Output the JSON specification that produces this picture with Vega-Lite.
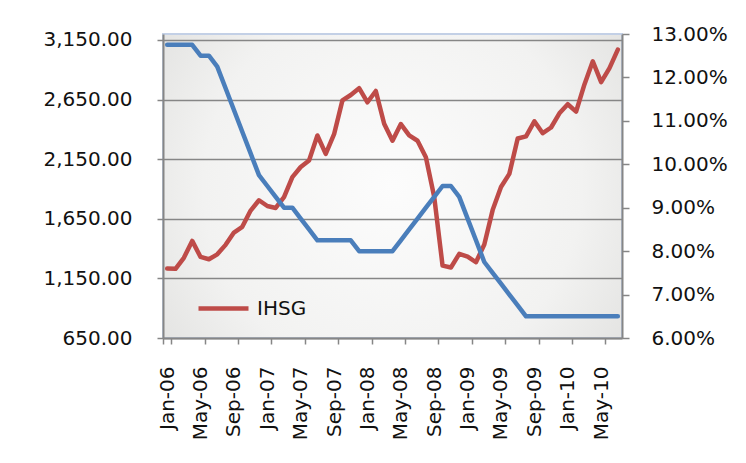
{
  "$schema": "https://vega.github.io/schema/vega-lite/v6.json",
  "width": 459,
  "height": 304,
  "autosize": "none",
  "padding": {"left": 163, "top": 34, "right": 124, "bottom": 125},
  "background": "#ffffff",
  "view": {
    "stroke": "#C3D0E6",
    "strokeWidth": 2,
    "fill": {"gradient": "radial", "x1": 0.5, "y1": 0.5, "r1": 0, "x2": 0.5, "y2": 0.5, "r2": 0.75,
      "stops": [{"offset": 0, "color": "#fcfcfc"}, {"offset": 0.55, "color": "#f2f2f1"}, {"offset": 1, "color": "#d9d9d7"}]}
  },
  "config": {
    "font": "DejaVu Sans",
    "axis": {"labelFont": "DejaVu Sans", "labelFontSize": 20, "labelColor": "#111111", "domainColor": "#868686", "domainWidth": 2, "tickColor": "#868686", "tickWidth": 1.5, "title": null}
  },
  "data": {"values": [
    {"m": "Jan-06", "ihsg": 1232.32, "bi": 12.75},
    {"m": "Feb-06", "ihsg": 1230.66, "bi": 12.75},
    {"m": "Mar-06", "ihsg": 1322.97, "bi": 12.75},
    {"m": "Apr-06", "ihsg": 1464.41, "bi": 12.75},
    {"m": "May-06", "ihsg": 1330.00, "bi": 12.50},
    {"m": "Jun-06", "ihsg": 1310.26, "bi": 12.50},
    {"m": "Jul-06", "ihsg": 1351.65, "bi": 12.25},
    {"m": "Aug-06", "ihsg": 1431.26, "bi": 11.75},
    {"m": "Sep-06", "ihsg": 1534.61, "bi": 11.25},
    {"m": "Oct-06", "ihsg": 1582.63, "bi": 10.75},
    {"m": "Nov-06", "ihsg": 1718.96, "bi": 10.25},
    {"m": "Dec-06", "ihsg": 1805.52, "bi": 9.75},
    {"m": "Jan-07", "ihsg": 1757.26, "bi": 9.50},
    {"m": "Feb-07", "ihsg": 1740.97, "bi": 9.25},
    {"m": "Mar-07", "ihsg": 1830.92, "bi": 9.00},
    {"m": "Apr-07", "ihsg": 1999.17, "bi": 9.00},
    {"m": "May-07", "ihsg": 2084.32, "bi": 8.75},
    {"m": "Jun-07", "ihsg": 2139.28, "bi": 8.50},
    {"m": "Jul-07", "ihsg": 2348.67, "bi": 8.25},
    {"m": "Aug-07", "ihsg": 2194.34, "bi": 8.25},
    {"m": "Sep-07", "ihsg": 2359.21, "bi": 8.25},
    {"m": "Oct-07", "ihsg": 2643.49, "bi": 8.25},
    {"m": "Nov-07", "ihsg": 2688.33, "bi": 8.25},
    {"m": "Dec-07", "ihsg": 2745.83, "bi": 8.00},
    {"m": "Jan-08", "ihsg": 2627.25, "bi": 8.00},
    {"m": "Feb-08", "ihsg": 2721.94, "bi": 8.00},
    {"m": "Mar-08", "ihsg": 2447.30, "bi": 8.00},
    {"m": "Apr-08", "ihsg": 2304.52, "bi": 8.00},
    {"m": "May-08", "ihsg": 2444.35, "bi": 8.25},
    {"m": "Jun-08", "ihsg": 2349.10, "bi": 8.50},
    {"m": "Jul-08", "ihsg": 2304.51, "bi": 8.75},
    {"m": "Aug-08", "ihsg": 2165.94, "bi": 9.00},
    {"m": "Sep-08", "ihsg": 1832.51, "bi": 9.25},
    {"m": "Oct-08", "ihsg": 1256.70, "bi": 9.50},
    {"m": "Nov-08", "ihsg": 1241.54, "bi": 9.50},
    {"m": "Dec-08", "ihsg": 1355.41, "bi": 9.25},
    {"m": "Jan-09", "ihsg": 1332.67, "bi": 8.75},
    {"m": "Feb-09", "ihsg": 1285.48, "bi": 8.25},
    {"m": "Mar-09", "ihsg": 1434.07, "bi": 7.75},
    {"m": "Apr-09", "ihsg": 1722.77, "bi": 7.50},
    {"m": "May-09", "ihsg": 1916.83, "bi": 7.25},
    {"m": "Jun-09", "ihsg": 2026.78, "bi": 7.00},
    {"m": "Jul-09", "ihsg": 2323.24, "bi": 6.75},
    {"m": "Aug-09", "ihsg": 2341.54, "bi": 6.50},
    {"m": "Sep-09", "ihsg": 2467.59, "bi": 6.50},
    {"m": "Oct-09", "ihsg": 2367.70, "bi": 6.50},
    {"m": "Nov-09", "ihsg": 2415.84, "bi": 6.50},
    {"m": "Dec-09", "ihsg": 2534.36, "bi": 6.50},
    {"m": "Jan-10", "ihsg": 2610.80, "bi": 6.50},
    {"m": "Feb-10", "ihsg": 2549.03, "bi": 6.50},
    {"m": "Mar-10", "ihsg": 2777.30, "bi": 6.50},
    {"m": "Apr-10", "ihsg": 2971.25, "bi": 6.50},
    {"m": "May-10", "ihsg": 2796.96, "bi": 6.50},
    {"m": "Jun-10", "ihsg": 2913.68, "bi": 6.50},
    {"m": "Jul-10", "ihsg": 3069.28, "bi": 6.50}
  ]},
  "encoding": {
    "x": {
      "field": "m", "type": "ordinal", "sort": null, "bandPosition": 0.5,
      "scale": {"type": "band", "paddingInner": 0, "paddingOuter": 0},
      "axis": {
        "values": ["Jan-06", "May-06", "Sep-06", "Jan-07", "May-07", "Sep-07", "Jan-08", "May-08", "Sep-08", "Jan-09", "May-09", "Sep-09", "Jan-10", "May-10"],
        "labelAngle": -90, "tickBand": "extent", "tickSize": 6, "labelPadding": 22, "grid": false
      }
    }
  },
  "layer": [
    {
      "mark": {"type": "line", "strokeWidth": 4.5, "strokeJoin": "round", "strokeCap": "round"},
      "encoding": {
        "y": {"field": "ihsg", "type": "quantitative",
          "scale": {"domain": [650, 3200], "nice": false, "zero": false},
          "axis": {"orient": "left", "values": [650, 1150, 1650, 2150, 2650, 3150], "format": ",.2f", "tickSize": 6, "labelPadding": 25, "grid": true, "gridColor": "#868686", "gridWidth": 1.6}
        },
        "color": {"datum": "IHSG", "type": "nominal",
          "scale": {"domain": ["IHSG"], "range": ["#BE4B48"]},
          "legend": {"title": null, "orient": "none", "legendX": 33, "legendY": 247, "padding": 0,
            "symbolType": "stroke", "symbolSize": 2500, "symbolStrokeWidth": 4.5, "labelOffset": 6,
            "labelFontSize": 20, "labelFont": "DejaVu Sans", "labelColor": "#111111"}
        }
      }
    },
    {
      "mark": {"type": "line", "strokeWidth": 4.5, "strokeJoin": "round", "strokeCap": "round", "color": "#4A7EBB"},
      "encoding": {
        "y": {"field": "bi", "type": "quantitative",
          "scale": {"domain": [6, 13], "nice": false, "zero": false},
          "axis": {"orient": "right", "values": [6, 7, 8, 9, 10, 11, 12, 13], "labelExpr": "format(datum.value, '.2f') + '%'", "tickSize": 7, "labelPadding": 22, "grid": false}
        }
      }
    }
  ],
  "resolve": {"scale": {"y": "independent"}}
}
